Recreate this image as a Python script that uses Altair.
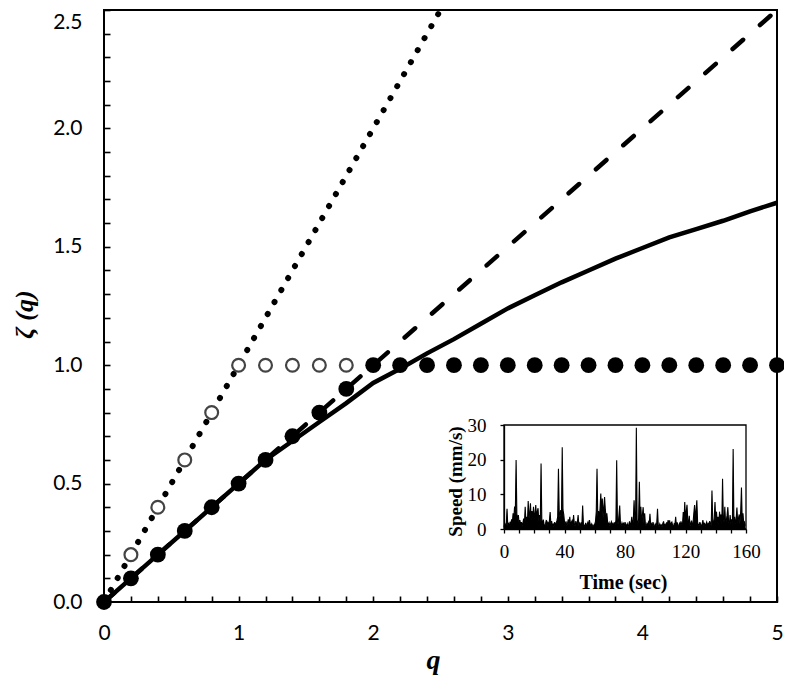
import altair as alt
import pandas as pd

# ---------------- main chart data ----------------
Q_OPEN = [0.2, 0.4, 0.6, 0.8, 1.0, 1.2, 1.4, 1.6, 1.8]
Z_OPEN = [0.2, 0.4, 0.6, 0.8, 1.0, 1.0, 1.0, 1.0, 1.0]

Q_FILLED = [0.0, 0.2, 0.4, 0.6, 0.8, 1.0, 1.2, 1.4, 1.6, 1.8,
            2.0, 2.2, 2.4, 2.6, 2.8, 3.0, 3.2, 3.4, 3.6, 3.8,
            4.0, 4.2, 4.4, 4.6, 4.8, 5.0]
Z_FILLED = [0.0, 0.1, 0.2, 0.3, 0.4, 0.5, 0.6, 0.7, 0.8, 0.9,
            1.0, 1.0, 1.0, 1.0, 1.0, 1.0, 1.0, 1.0, 1.0, 1.0,
            1.0, 1.0, 1.0, 1.0, 1.0, 1.0]

Q_DOTTED = [0.0, 2.5]
Z_DOTTED = [0.0, 2.5]

Q_DASHED = [0.0, 5.0]
Z_DASHED = [0.0, 2.5]

Q_SOLID = [0.0, 0.2, 0.4, 0.6, 0.8, 1.0, 1.2, 1.4, 1.6, 1.8,
           2.0, 2.2, 2.4, 2.6, 2.8, 3.0, 3.2, 3.4, 3.6, 3.8,
           4.0, 4.2, 4.4, 4.6, 4.8, 5.0]
Z_SOLID = [0.0, 0.1, 0.2, 0.3, 0.4, 0.5, 0.6, 0.68, 0.76, 0.84,
           0.925, 0.985, 1.05, 1.11, 1.175, 1.24, 1.295, 1.35, 1.40, 1.45,
           1.495, 1.54, 1.575, 1.61, 1.65, 1.686]

X_TICKS = [i / 5 for i in range(26)]
Y_TICKS = [i / 10 for i in range(26)]

# ---------------- inset data (speed, mm/s, sampled every 0.5 s) ----------------
TIME_STEP = 0.5
SPEED = [
    0.5, 1.8, 0.8, 1.2, 5.8, 0.9, 1.5, 0.7, 2.1, 1.0, 2.8, 1.6, 4.5, 3.2, 6.5, 5.0, 19.9, 4.2, 3.0, 4.0,
    1.5, 2.6, 1.2, 2.0, 0.9, 1.8, 3.0, 1.4, 6.4, 2.2, 3.5, 1.8, 8.1, 3.0, 4.6, 7.4, 2.5, 5.2, 3.0, 6.4,
    2.8, 4.5, 6.9, 3.2, 5.0, 6.0, 2.4, 4.0, 2.0, 18.9, 2.6, 1.5, 2.7, 1.2, 0.8, 1.6, 2.6, 1.0, 1.9, 1.3,
    2.2, 4.9, 1.5, 2.3, 0.9, 1.4, 0.6, 2.0, 1.1, 1.7, 2.4, 3.5, 17.4, 5.0, 3.4, 5.5, 4.0, 23.6, 5.5, 4.2,
    2.0, 1.3, 2.2, 0.8, 1.6, 2.8, 1.2, 3.5, 1.0, 1.9, 2.4, 1.1, 4.0, 1.5, 0.8, 2.3, 1.2, 1.8, 4.0, 1.0,
    1.6, 0.7, 1.9, 1.2, 6.8, 1.5, 1.0, 0.6, 1.8, 0.9, 1.4, 2.0, 0.8, 2.6, 1.3, 0.7, 1.5, 1.0, 0.6, 1.2,
    1.4, 2.2, 5.0, 17.4, 3.5, 5.2, 2.8, 6.0, 10.2, 4.8, 8.8, 3.2, 6.5, 9.2, 5.5, 3.6, 4.5, 2.0, 1.2, 1.8,
    0.9, 1.5, 2.1, 1.0, 1.6, 0.8, 1.9, 1.2, 2.5, 19.8, 2.0, 1.4, 4.0, 6.8, 1.5, 0.9, 1.8, 1.1, 1.6, 0.7,
    2.0, 1.2, 0.8, 1.5, 0.6, 1.3, 2.2, 0.9, 1.7, 3.5, 1.0, 2.4, 8.3, 3.0, 1.5, 29.2, 2.5, 1.2, 3.0, 13.6,
    3.5, 6.4, 2.0, 4.0, 6.3, 1.8, 4.5, 1.2, 0.8, 1.6, 1.0, 2.0, 1.3, 4.4, 0.9, 1.5, 0.7, 2.0, 1.1, 0.6,
    1.4, 0.8, 1.8, 5.8, 1.0, 0.6, 1.5, 0.9, 1.2, 0.5, 1.6, 2.2, 0.8, 1.3, 0.7, 1.9, 1.1, 2.6, 1.4, 2.5,
    0.9, 1.7, 2.0, 1.0, 0.6, 1.5, 1.2, 3.5, 0.8, 1.9, 1.1, 0.7, 1.6, 1.0, 2.2, 1.3, 1.0, 4.9, 2.0, 7.8,
    3.0, 5.0, 7.0, 2.5, 1.5, 3.8, 0.9, 1.6, 2.4, 1.0, 1.8, 4.5, 6.9, 2.5, 5.5, 8.3, 2.0, 1.2, 0.8, 2.0,
    1.3, 0.6, 1.5, 2.6, 1.0, 1.8, 0.7, 1.4, 2.0, 0.9, 1.6, 1.1, 2.3, 1.5, 1.0, 11.1, 2.5, 1.4, 3.0, 7.8,
    2.2, 5.0, 1.8, 3.5, 1.2, 5.0, 2.4, 4.2, 1.5, 14.5, 3.0, 2.0, 6.4, 1.5, 2.5, 4.0, 6.3, 2.0, 1.2, 4.0,
    1.5, 2.8, 1.2, 23.1, 2.5, 3.5, 1.6, 2.8, 6.2, 1.8, 3.0, 4.2, 1.5, 5.2, 12.0, 2.2, 4.5, 1.6, 2.0, 1.0,
]
TIME = [i * TIME_STEP for i in range(len(SPEED))]
INSET_X_TICKS = list(range(0, 161, 10))
INSET_Y_TICKS = [0, 10, 20, 30]

W, H = 673, 592

# ---------------- main axes ----------------
x_axis = alt.Axis(
    values=X_TICKS,
    labelExpr="abs(datum.value - round(datum.value)) < 1e-6 ? format(datum.value, 'd') : ''",
    title="q", domain=False, grid=False, offset=-6,
    ticks=True, tickSize=6, tickWidth=1.6, tickColor="black",
    labelFont="Lato", labelFontSize=21, labelColor="black", labelPadding=20,
    labelFlush=False, labelOverlap=False, labelBound=False,
    titleFont="Liberation Serif", titleFontSize=28, titleFontWeight="bold",
    titleFontStyle="italic", titleColor="black",
    titleX=329, titleY=64, titleBaseline="middle",
)
y_axis = alt.Axis(
    values=Y_TICKS,
    labelExpr="datum.value == 2.5 ? ['', '2.5'] : (abs(datum.value * 2 - round(datum.value * 2)) < 1e-6 ? format(datum.value, '.1f') : '')",
    title="ζ (q)", domain=False, grid=False, offset=-6,
    ticks=True, tickSize=6, tickWidth=1.6, tickColor="black",
    labelFont="Lato", labelFontSize=21, labelColor="black", labelPadding=22,
    labelFlush=False, labelOverlap=False, labelBound=False, labelLineHeight=12,
    titleFont="Liberation Serif", titleFontSize=26, titleFontWeight="bold",
    titleFontStyle="italic", titleColor="black",
    titleX=-86, titleY=304, titleBaseline="middle", titleAngle=-90,
)
xs = alt.Scale(domain=[0, 5], nice=False, zero=False)
ys = alt.Scale(domain=[0, 2.5], nice=False, zero=False)


def enc(df_chart):
    return df_chart.encode(
        x=alt.X("q:Q", scale=xs, axis=x_axis),
        y=alt.Y("z:Q", scale=ys, axis=y_axis),
    )


dotted = enc(alt.Chart(pd.DataFrame({"q": Q_DOTTED, "z": Z_DOTTED})).mark_line(
    color="black", strokeWidth=6, strokeCap="round", strokeDash=[0.1, 13.7]))
dashed = enc(alt.Chart(pd.DataFrame({"q": Q_DASHED, "z": Z_DASHED})).mark_line(
    color="black", strokeWidth=4.5, strokeCap="round", strokeDash=[14, 22.4]))
solid = enc(alt.Chart(pd.DataFrame({"q": Q_SOLID, "z": Z_SOLID})).mark_line(
    color="black", strokeWidth=4.5))
opened = enc(alt.Chart(pd.DataFrame({"q": Q_OPEN, "z": Z_OPEN})).mark_point(
    shape="circle", filled=True, fill="white", stroke="#444444", strokeWidth=2.2,
    size=165, opacity=1))
filled = enc(alt.Chart(pd.DataFrame({"q": Q_FILLED, "z": Z_FILLED})).mark_circle(
    color="black", size=250, opacity=1))

main = alt.layer(dotted, opened, dashed, solid, filled)

# ---------------- inset ----------------
ix_scale = alt.Scale(domain=[0, 160], range=[400, 642], nice=False, zero=False)
iy_scale = alt.Scale(domain=[0, 30], range=[519, 415], nice=False, zero=False)
ix_axis = alt.Axis(
    orient="bottom", offset=-73, values=INSET_X_TICKS,
    labelExpr="datum.value % 40 == 0 ? format(datum.value, 'd') : ''",
    title="Time (sec)", domain=True, domainColor="black", domainWidth=1.3,
    grid=False, tickSize=4, tickWidth=1.3, tickColor="black",
    labelFont="Liberation Serif", labelFontSize=19, labelColor="black",
    labelPadding=9, labelFlush=False, labelOverlap=False, labelBound=False,
    titleFont="Liberation Serif", titleFontSize=20, titleFontWeight="bold",
    titleColor="black", titleX=519, titleY=53, titleBaseline="middle",
)
iy_axis = alt.Axis(
    orient="left", offset=-400, values=INSET_Y_TICKS,
    title="Speed (mm/s)", domain=True, domainColor="black", domainWidth=1.3,
    grid=False, tickSize=4, tickWidth=1.3, tickColor="black",
    labelFont="Liberation Serif", labelFontSize=19, labelColor="black",
    labelPadding=14, labelFlush=False, labelOverlap=False, labelBound=False,
    titleFont="Liberation Serif", titleFontSize=19, titleFontWeight="bold",
    titleColor="black", titleX=-49, titleY=471, titleBaseline="middle", titleAngle=-90,
)

frame = alt.Chart(pd.DataFrame({"t": [0], "t2": [160], "s": [0], "s2": [30]})).mark_rect(
    filled=False, stroke="black", strokeWidth=1.3).encode(
    x=alt.X("t:Q", scale=ix_scale, axis=ix_axis),
    x2="t2:Q",
    y=alt.Y("s:Q", scale=iy_scale, axis=iy_axis),
    y2="s2:Q",
)
speed_df = pd.DataFrame({"t": TIME, "s": SPEED})
speed_area = alt.Chart(speed_df).mark_area(color="black", opacity=1).encode(
    x=alt.X("t:Q", scale=ix_scale, axis=ix_axis),
    y=alt.Y("s:Q", scale=iy_scale, axis=iy_axis),
)
speed_line = alt.Chart(speed_df).mark_line(color="black", strokeWidth=1.1).encode(
    x=alt.X("t:Q", scale=ix_scale, axis=ix_axis),
    y=alt.Y("s:Q", scale=iy_scale, axis=iy_axis),
)
inset = alt.layer(frame, speed_area, speed_line)

chart = alt.layer(main, inset).resolve_scale(
    x="independent", y="independent"
).properties(
    width=W, height=H,
    padding={"left": 96, "top": 2, "right": 7, "bottom": 78},
    autosize=alt.AutoSizeParams(type="none"),
    background="white",
).configure_view(stroke="black", strokeWidth=2)

chart.save("out.html", embed_options={"renderer": "svg", "actions": False})
